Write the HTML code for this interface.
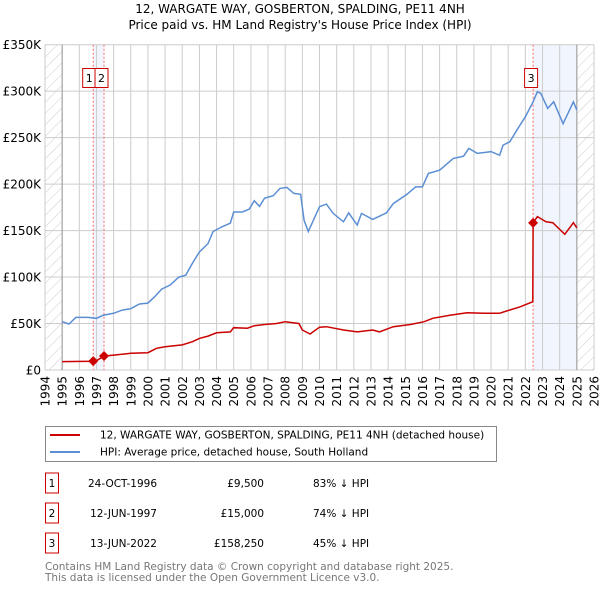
<!DOCTYPE html>
<html><head><meta charset="utf-8"><style>
body{margin:0;background:#fff;font-family:"DejaVu Sans","Liberation Sans",sans-serif;}
svg text{font-family:"DejaVu Sans","Liberation Sans",sans-serif;}
</style></head><body>
<svg id="chart" width="600" height="590" viewBox="0 0 600 590" xmlns="http://www.w3.org/2000/svg">
<defs><pattern id="hatch" width="8" height="8" patternUnits="userSpaceOnUse" patternTransform="rotate(45)"><line x1="0" y1="0" x2="0" y2="8" stroke="#ccc" stroke-width="1"/></pattern></defs>
<text x="300" y="13" text-anchor="middle" font-size="12">12, WARGATE WAY, GOSBERTON, SPALDING, PE11 4NH</text>
<text x="300" y="29" text-anchor="middle" font-size="12">Price paid vs. HM Land Registry's House Price Index (HPI)</text>
<g id="plot"></g>
<g>
<rect x="45.5" y="426.5" width="451" height="35" fill="#fff" stroke="#888"/>
<line x1="50" y1="435" x2="80" y2="435" stroke="#cc0000" stroke-width="2"/>
<text x="100" y="438.5" font-size="10.5">12, WARGATE WAY, GOSBERTON, SPALDING, PE11 4NH (detached house)</text>
<line x1="50" y1="452" x2="80" y2="452" stroke="#5b8fd4" stroke-width="2"/>
<text x="100" y="455.5" font-size="10.5">HPI: Average price, detached house, South Holland</text>
</g>
<g id="table" font-size="10.5"></g>
<text x="45" y="570" font-size="10.5" fill="#777">Contains HM Land Registry data © Crown copyright and database right 2025.</text>
<text x="45" y="581" font-size="10.5" fill="#777">This data is licensed under the Open Government Licence v3.0.</text>
</svg>
<script>
const hpiYears=[1995.0,1995.4,1995.8,1996.5,1997.0,1997.4,1998.0,1998.5,1999.0,1999.5,2000.0,2000.4,2000.8,2001.3,2001.8,2002.2,2002.6,2003.0,2003.5,2003.8,2004.3,2004.8,2005.0,2005.5,2005.9,2006.2,2006.5,2006.8,2007.3,2007.7,2008.1,2008.5,2008.9,2009.1,2009.35,2010.0,2010.4,2010.8,2011.4,2011.7,2012.2,2012.45,2013.1,2013.9,2014.3,2015.1,2015.6,2016.0,2016.35,2017.0,2017.8,2018.4,2018.7,2019.2,2020.0,2020.5,2020.7,2021.1,2021.5,2022.0,2022.45,2022.7,2022.9,2023.3,2023.65,2024.2,2024.8,2025.0];
const hpiValues=[52,49.5,56.6,56.6,55.6,59,61,64.5,66,71,72,79,87,91.5,100,102,115,127,136,149,154,158,170,170,173,182,176,185,187.5,195.4,196.5,190,189,161,149,175.7,178.5,168.5,159.5,169,156,168.5,162,169,179,189,197,197,211.5,215,227.7,230,238.4,233,235,231,242,245.6,258,272.5,288.6,299.4,297.6,281.5,288.6,265,288.6,279.7];
const paidYears=[1995.0,1996.81,1997.0,1997.44,1998.0,1999.0,2000.0,2000.5,2001.0,2002.0,2002.6,2003.0,2003.5,2004.0,2004.8,2005.0,2005.8,2006.2,2006.8,2007.5,2008.0,2008.8,2009.0,2009.45,2010.0,2010.4,2011.4,2012.2,2013.1,2013.5,2014.3,2015.3,2016.1,2016.6,2017.6,2018.6,2019.6,2020.5,2020.9,2021.7,2022.43,2022.45,2022.7,2023.2,2023.6,2024.3,2024.8,2025.0];
const paidValues=[9,9.5,10,15,16,18,18.6,23.3,25,27,30.5,34,36.5,40,41,45.5,45,47.7,49,50,52,50,43,38.7,46,46.6,43,41,43,41,46.6,49,52,55.6,59,61.7,61,61,63.5,68,73.5,158.25,165,159.5,158.5,146,158.5,153];
const saleYears=[1996.81,1997.44,2022.45];
const saleValues=[9.5,15,158.25];
const saleLabels=["1","2","3"];
const saleDates=["24-OCT-1996","12-JUN-1997","13-JUN-2022"];
const salePrices=["£9,500","£15,000","£158,250"];
const saleHpi=["83% ↓ HPI","74% ↓ HPI","45% ↓ HPI"];
const yTicks=[0,50,100,150,200,250,300,350];
const yTickLabels=["£0","£50K","£100K","£150K","£200K","£250K","£300K","£350K"];
const xTicks=[1994,1995,1996,1997,1998,1999,2000,2001,2002,2003,2004,2005,2006,2007,2008,2009,2010,2011,2012,2013,2014,2015,2016,2017,2018,2019,2020,2021,2022,2023,2024,2025,2026];

const NS="http://www.w3.org/2000/svg";
const X0=45,X1=594,Y0=370,Y1=44.7;
const xs=y=>X0+(y-1994)/(2026-1994)*(X1-X0);
const ys=v=>Y0-v/350*(Y0-Y1);
const plot=document.getElementById('plot');
function mk(tag,attrs,parent){const e=document.createElementNS(NS,tag);for(const k in attrs)e.setAttribute(k,attrs[k]);(parent||plot).appendChild(e);return e;}
let e;
e=mk('rect',{x:xs(1994),y:Y1,width:xs(1995)-xs(1994),height:Y0-Y1,fill:'url(#hatch)'});


e=mk('rect',{x:xs(2025),y:Y1,width:xs(2026)-xs(2025),height:Y0-Y1,fill:'url(#hatch)'});


e=mk('rect',{x:xs(saleYears[0]),y:Y1,width:xs(saleYears[1])-xs(saleYears[0]),height:Y0-Y1,fill:'#eef3fc',opacity:0.8});


e=mk('rect',{x:xs(saleYears[2]),y:Y1,width:xs(2025)-xs(saleYears[2]),height:Y0-Y1,fill:'#eef3fc',opacity:0.8});


xTicks.forEach((t,i)=>{
  const g=mk('line',{x1:xs(t),x2:xs(t),y1:Y1,y2:Y0,stroke:'#ccc','stroke-width':1});
  
  
  const tx=mk('text',{x:0,y:0,'font-size':12,'text-anchor':'end',transform:`translate(${xs(t)+4.5},376) rotate(-90)`});
  tx.textContent=t;
  
  
});
yTicks.forEach((t,i)=>{
  const g=mk('line',{x1:X0,x2:X1,y1:ys(t),y2:ys(t),stroke:'#ccc','stroke-width':1});
  
  
  const tx=mk('text',{x:41,y:ys(t)+4.5,'font-size':12,'text-anchor':'end'});
  tx.textContent=yTickLabels[i];
  
  
});
e=mk('line',{x1:xs(1995),x2:xs(1995),y1:Y1,y2:Y0,stroke:'#999','stroke-width':1});


e=mk('line',{x1:xs(2025),x2:xs(2025),y1:Y1,y2:Y0,stroke:'#999','stroke-width':1});


saleYears.forEach((y,i)=>{
  const l=mk('line',{x1:xs(y),x2:xs(y),y1:Y1,y2:Y0,stroke:'#f66','stroke-width':1,'stroke-dasharray':'2,2'});
  
  
});
function pts(a,b){return a.map((y,i)=>xs(y).toFixed(1)+','+ys(b[i]).toFixed(1)).join(' ');}
e=mk('polyline',{points:pts(hpiYears,hpiValues),fill:'none',stroke:'#5b8fd4','stroke-width':1.5});


e=mk('polyline',{points:pts(paidYears,paidValues),fill:'none',stroke:'#cc0000','stroke-width':1.5});


saleYears.forEach((y,i)=>{
  const cx=xs(y),cy=ys(saleValues[i]);
  const d=mk('polygon',{points:`${cx},${cy-5} ${cx+5},${cy} ${cx},${cy+5} ${cx-5},${cy}`,fill:'#cc0000'});
  
  
  const bx=(i===0)?cx-10.5:(i===1?cx-9:cx-8.5);
  const r=mk('rect',{x:bx,y:68.5,width:13,height:19,fill:'#fff',stroke:'#cc0000'});
  
  
  const t=mk('text',{x:bx+6.5,y:82,'font-size':11,'text-anchor':'middle'});
  t.textContent=saleLabels[i];
  
  
});
const tb=document.getElementById('table');
saleLabels.forEach((s,i)=>{
  const cy=483+i*30;
  const r=mk('rect',{x:45.5,y:cy-10,width:13,height:20,fill:'#fff',stroke:'#cc0000'},tb);
  
  
  const t1=mk('text',{x:52,y:cy+4,'text-anchor':'middle'},tb);t1.textContent=s;
  
  
  const t2=mk('text',{x:157,y:cy+4,'text-anchor':'end'},tb);t2.textContent=saleDates[i];
  
  
  const t3=mk('text',{x:264,y:cy+4,'text-anchor':'end'},tb);t3.textContent=salePrices[i];
  
  
  const t4=mk('text',{x:313,y:cy+4},tb);t4.textContent=saleHpi[i];
  
  
});
</script>
</body></html>
